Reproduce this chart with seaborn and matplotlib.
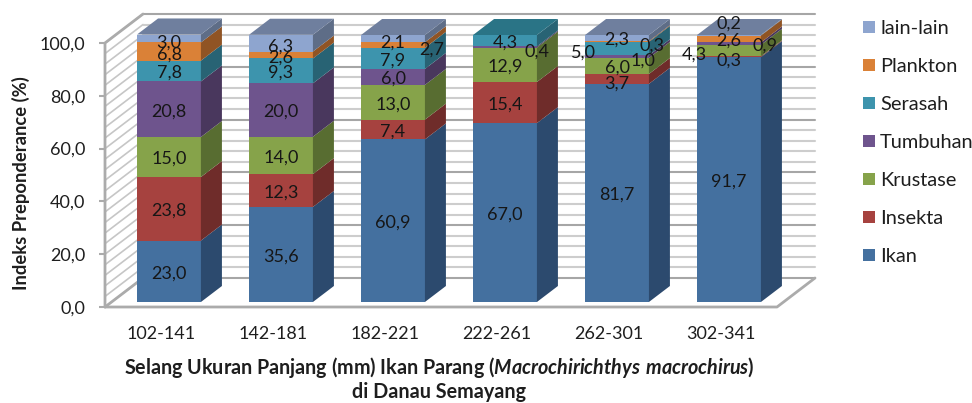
import numpy as np
import pandas as pd
import matplotlib
matplotlib.use('Agg')
import matplotlib.pyplot as plt
from matplotlib.patches import Patch
import seaborn as sns

categories = ['102-141', '142-181', '182-221', '222-261', '262-301', '302-341']
series_names = ['Ikan', 'Insekta', 'Krustase', 'Tumbuhan', 'Serasah', 'Plankton', 'lain-lain']
ikan = [23.0, 35.6, 60.9, 67.0, 81.7, 91.7]
insekta = [23.8, 12.3, 7.4, 15.4, 3.7, 0.3]
krustase = [15.0, 14.0, 13.0, 12.9, 6.0, 4.3]
tumbuhan = [20.8, 20.0, 6.0, 0.4, 1.0, 0.9]
serasah = [7.8, 9.3, 7.9, 4.3, 5.0, 0.0]
plankton = [6.8, 2.6, 2.1, 0.0, 0.3, 2.6]
lain = [3.0, 6.3, 2.7, 0.0, 2.3, 0.2]
all_series = [ikan, insekta, krustase, tumbuhan, serasah, plankton, lain]

front_colors = ['#44709f', '#a6423f', '#86a34a', '#6e548d', '#3d94ad', '#da8137', '#8ea5cf']
side_colors = ['#2c4a6e', '#6f2c2a', '#586d31', '#49375d', '#286374', '#905424', '#5e6d87']
top_colors = ['#5f7fa8', '#b06a68', '#9ab06c', '#7e6a9c', '#2a7486', '#b5713c', '#6f7f9e']

# manually moved data labels in the original, in pixels (cat, series)
label_shift = {(0, 6): (0, -2), (0, 5): (0, -1), (1, 6): (0, -1), (1, 5): (0, -1),
               (2, 5): (0, 4), (2, 6): (39, -9), (3, 3): (32, -3), (4, 4): (-34, -2),
               (4, 5): (35, -2), (4, 3): (26, -2), (5, 3): (36, 0), (5, 2): (-35, -2),
               (5, 6): (0, 14), (5, 1): (0, -2), (4, 1): (0, -3)}

sns.set_theme(style='white')
plt.rcParams['font.family'] = ['Lato', 'DejaVu Sans']
plt.rcParams['mathtext.fontset'] = 'custom'
plt.rcParams['mathtext.bfit'] = 'Lato:italic:bold'
text_col = '#1e1e1e'

W, H = 972, 403
fig = plt.figure(figsize=(W / 100, H / 100), dpi=100)
# front plane of the chart box
ax = fig.add_axes([105 / W, 1 - 307 / H, 672 / W, 264 / H])
# plane the bars stand on, a bit further back
ax_bar = fig.add_axes([113 / W, 1 - 302 / H, 672 / W, 267 / H], zorder=3)
ax_bar.patch.set_alpha(0)

ax.set_xlim(-0.5, 5.5)
ax.set_ylim(0, 100)
ax_bar.set_xlim(-0.5, 5.5)
ax_bar.set_ylim(0, 100)
ax_bar.axis('off')

# walls
wall_dx = 38 / 112
wall_dy = 29 / 2.64
for v in range(0, 101, 4):
    major = v % 20 == 0
    ax.plot([-0.5, -0.5 + wall_dx], [v, v + wall_dy], color='#c6c6c6', lw=1.2, clip_on=False, zorder=1)
    ax.plot([-0.5 + wall_dx, 5.5 + wall_dx], [v + wall_dy, v + wall_dy],
            color='#a6a6a6' if major else '#cdcdcd', lw=1.5, clip_on=False, zorder=1)
ax.plot([-0.5, -0.5, -0.5 + wall_dx], [0, 100, 100 + wall_dy], color='#ababab', lw=2, clip_on=False, zorder=2)
ax.plot([-0.5, 5.5, 5.5 + wall_dx], [0, 0, wall_dy], color='#ababab', lw=2, clip_on=False, zorder=2)
ax.plot([-0.5, -0.5 + wall_dx], [0, wall_dy], color='#ababab', lw=2, clip_on=False, zorder=2)

for s in ax.spines.values():
    s.set_visible(False)
ax.set_xticks(range(6))
ax.set_xticklabels(categories, fontsize=13, color=text_col)
ax.set_yticks(range(0, 101, 20))
ax.set_yticklabels([f'{v:.1f}'.replace('.', ',') for v in range(0, 101, 20)], fontsize=13, color=text_col)
ax.tick_params(axis='x', length=0, pad=14)
ax.tick_params(axis='y', length=4.3, width=1.5, color='#ababab', pad=10, left=True)
ax.set_xlabel('')
ax.set_ylabel('')

# stacked bars, front faces by seaborn, depth faces from the same numbers
bar_w = 0.57
depth_x = 21 / 112
depth_y = 16 / 2.67
bottom = np.zeros(6)
for i, vals in enumerate(all_series):
    df = pd.DataFrame({'cat': categories, 'val': vals})
    sns.barplot(data=df, x='cat', y='val', color=front_colors[i], saturation=1, width=bar_w,
                bottom=bottom, errorbar=None, linewidth=0, order=categories, ax=ax_bar)
    for k, v in enumerate(vals):
        if v == 0:
            continue
        r = k + bar_w / 2
        ax_bar.fill([r, r + depth_x, r + depth_x, r],
                    [bottom[k], bottom[k] + depth_y, bottom[k] + v + depth_y, bottom[k] + v],
                    color=side_colors[i], lw=0, clip_on=False, zorder=2)
    bottom = bottom + np.array(vals)

# top faces take the colour of the last series present
for k in range(6):
    last = max(i for i in range(7) if all_series[i][k] > 0)
    l, r = k - bar_w / 2, k + bar_w / 2
    t = bottom[k]
    ax_bar.fill([l, r, r + depth_x, l + depth_x], [t, t, t + depth_y, t + depth_y],
                color=top_colors[last], lw=0, clip_on=False, zorder=2)

# data labels
base = np.zeros(6)
for i, vals in enumerate(all_series):
    for k, v in enumerate(vals):
        if v == 0:
            continue
        sx, sy = label_shift.get((k, i), (0, 0))
        ax_bar.annotate(f'{v:.1f}'.replace('.', ','), (k, base[k] + v / 2), xytext=(sx, sy - 2),
                        textcoords='offset pixels', ha='center', va='center',
                        fontsize=13, color='#161616', zorder=5, annotation_clip=False)
    base = base + np.array(vals)

fig.text(21 / W, 1 - 183 / H, 'Indeks Preponderance (%)', rotation=90, ha='center', va='center',
         fontsize=13.2, fontweight='bold', color=text_col)
fig.text(439 / W, 1 - 367 / H, r'Selang Ukuran Panjang (mm) Ikan Parang ($\mathbfit{Macrochirichthys\ macrochirus}$)',
         ha='center', va='center', fontsize=14.2, fontweight='bold', color=text_col)
fig.text(439 / W, 1 - 392 / H, 'di Danau Semayang', ha='center', va='center', fontsize=14.2,
         fontweight='bold', color=text_col)

handles = [Patch(color=c, lw=0) for c in front_colors[::-1]]
fig.legend(handles, series_names[::-1], loc='upper left', bbox_to_anchor=(863 / W, 1 - 20 / H),
           frameon=False, fontsize=14.4, labelcolor=text_col, handlelength=0.6, handleheight=0.6,
           handletextpad=0.25, labelspacing=1.05, borderpad=0, borderaxespad=0)

fig.savefig('out.png', dpi=100)
